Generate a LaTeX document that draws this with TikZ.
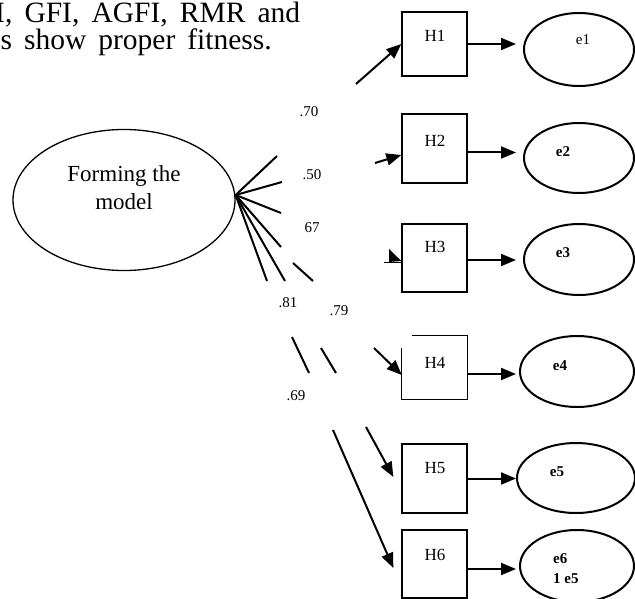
\documentclass[tikz,border=0pt]{standalone}
\usepackage{fontspec}
\setmainfont{Liberation Serif}
\usetikzlibrary{arrows.meta,shapes.geometric}
\begin{document}
\begin{tikzpicture}[x=1pt,y=-1pt,
  box/.style={draw, line width=1.3pt, minimum width=65pt, inner sep=0pt},
  err/.style={draw, ellipse, line width=2pt, inner sep=0pt},
  lbl/.style={font=\fontsize{17}{20}\selectfont, anchor=base, inner sep=0pt},
  elbl/.style={font=\fontsize{15}{18}\selectfont\bfseries, anchor=base, inner sep=0pt},
  coef/.style={font=\fontsize{15}{18}\selectfont, inner sep=0pt},
  load/.style={line width=2pt},
  arr/.style={line width=2pt, -{Triangle[length=15pt,width=12pt]}},
  top/.style={anchor=base west, inner sep=0pt, font=\fontsize{29.5}{30}\selectfont},
]
\useasboundingbox (0,0) rectangle (635,599);

% top text
\node[top] (t1) at (-5,22.5) {\makebox[305pt][s]{I, GFI, AGFI, RMR and}};
\node[top] (t2) at (0.5,50) {\makebox[271pt][s]{s show proper fitness.}};

% latent
\node[draw, ellipse, line width=1.3pt, minimum width=222pt, minimum height=141pt, inner sep=0pt] (F) at (124,200) {};
\node[font=\fontsize{23}{28}\selectfont, anchor=base, inner sep=0pt] (Ft1) at (124,182) {Forming the};
\node[font=\fontsize{23}{28}\selectfont, anchor=base, inner sep=0pt] (Ft2) at (124,210) {model};

% boxes
\node[box, minimum height=64pt] (H1) at (434.5,44) {};
\node[box, minimum height=69pt] (H2) at (434.5,148.5) {};
\node[box, minimum height=68pt] (H3) at (434.5,258) {};
\node[minimum width=65pt, minimum height=63pt, inner sep=0pt] (H4) at (434.5,367.5) {};
\node[box, minimum height=69pt] (H5) at (434.5,478.5) {};
\node[box, minimum height=68pt] (H6) at (434.5,564) {};
\draw[line width=1.3pt] ([xshift=10pt]H4.north west) -- (H4.north east) -- (H4.south east) -- (H4.south west) -- ([yshift=-12pt]H4.north west);

\node[lbl] (H1l) at (435,42) {H1};
\node[lbl] (H2l) at (435,147) {H2};
\node[lbl] (H3l) at (435,252) {H3};
\node[lbl] (H4l) at (435,368) {H4};
\node[lbl] (H5l) at (435,473) {H5};
\node[lbl] (H6l) at (435,560) {H6};

% error ellipses
\node[err, minimum width=110pt, minimum height=73pt] (e1) at (579,49.5) {};
\node[err, minimum width=110pt, minimum height=70pt] (e2) at (579,158) {};
\node[err, minimum width=110pt, minimum height=71pt] (e3) at (579,259.5) {};
\node[err, minimum width=114pt, minimum height=71pt] (e4) at (577,371.5) {};
\node[err, minimum width=118pt, minimum height=70pt] (e5) at (576,478) {};
\node[err, minimum width=114pt, minimum height=72pt] (e6) at (577,566) {};

\node[font=\fontsize{15}{18}\selectfont, anchor=base, inner sep=0pt] (e1l) at (583,45) {e1};
\node[elbl] (e2l) at (563,157) {e2};
\node[elbl] (e3l) at (563,258) {e3};
\node[elbl] (e4l) at (560,370) {e4};
\node[elbl] (e5l) at (557,476) {e5};
\node[elbl, anchor=base west] (e6l) at (553,563) {e6};
\node[elbl, anchor=base west] (e6m) at (553,583) {1 e5};

% box -> error arrows
\draw[arr, shorten >=7pt] (H1.east) -- (H1.east -| e1.west);
\draw[arr, shorten >=7pt] ([yshift=-4pt]H2.east) -- ([yshift=-4pt]H2.east -| e2.west);
\draw[arr, shorten >=7pt] ([yshift=-2pt]H3.east) -- ([yshift=-2pt]H3.east -| e3.west);
\draw[arr, shorten >=3pt] ([yshift=-6.5pt]H4.east) -- ([yshift=-6.5pt]H4.east -| e4.west);
\draw[arr] (H5.east) -- (H5.east -| e5.west);
\draw[arr, shorten >=3pt] ([yshift=-5pt]H6.east) -- ([yshift=-5pt]H6.east -| e6.west);

% loadings (broken lines)
\coordinate (o) at ([yshift=5pt]F.east);
\coordinate (p1) at (277,156);
\coordinate (p2) at (282,182);
\coordinate (p3) at (281,213);
\coordinate (p4) at (281,247);
\coordinate (p5) at (267,281);
\coordinate (p6) at (285,281);
\coordinate (q1a) at (293,263);
\coordinate (q1b) at (313,281);
\coordinate (q2a) at (292,337);
\coordinate (q2b) at (309,373);
\coordinate (q3a) at (321,348);
\coordinate (q3b) at (336,373);
\coordinate (r1) at (356,84);
\coordinate (r2) at (375,163);
\coordinate (r4) at (374,348);
\coordinate (r5) at (366,427);
\coordinate (r6) at (333,430);

\draw[load] (o) -- (p1);
\draw[load] (o) -- (p2);
\draw[load] (o) -- (p3);
\draw[load] (o) -- (p4);
\draw[load] (o) -- (p5);
\draw[load] (o) -- (p6);
\draw[load] (q1a) -- (q1b);
\draw[load] (q2a) -- (q2b);
\draw[load] (q3a) -- (q3b);

\draw[arr] (r1) -- (H1.west);
\draw[arr] (r2) -- ([yshift=-6.5pt]H2.west);
\draw[arr] (r4) -- ([yshift=-7.5pt]H4.west);
\draw[arr] (r5) -- ([xshift=-8pt,yshift=1.5pt]H5.west);
\draw[arr] (r6) -- ([xshift=-8pt,yshift=-4pt]H6.west);

% truncated arrow into H3
\coordinate (s3) at (384,262);
\fill (389,249) -- ([yshift=-3pt]H3.west) -- (389,262) -- cycle;
\draw[line width=1pt] (s3) -- ([yshift=-4pt]H3.west);

% coefficients
\node[coef] (c1) at (309,112) {.70};
\node[coef] (c2) at (312,175) {.50};
\node[coef] (c3) at (312,228) {67};
\node[coef] (c4) at (288,303) {.81};
\node[coef] (c5) at (339,311) {.79};
\node[coef] (c6) at (296,396) {.69};
\end{tikzpicture}
\end{document}
